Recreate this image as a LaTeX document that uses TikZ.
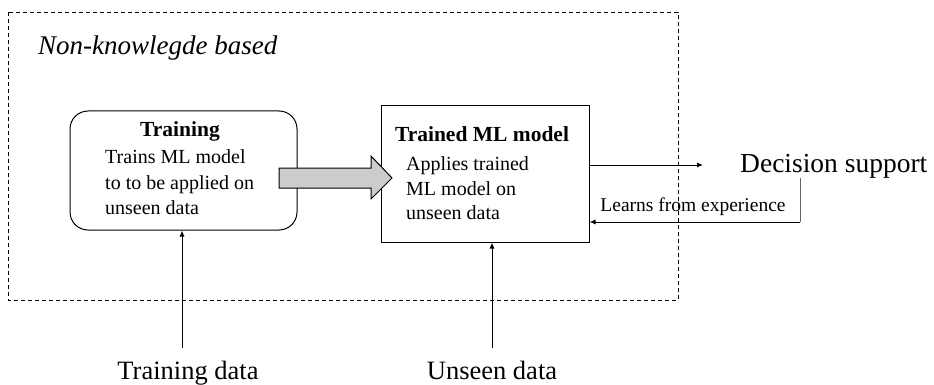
\documentclass[tikz,border=0pt]{standalone}
\usepackage{fontspec}
\setmainfont{Liberation Serif}
\usetikzlibrary{arrows.meta}
\begin{document}
\begin{tikzpicture}[x=1pt,y=-1pt,
  conn/.style={line width=1pt,-{Latex[length=6pt,width=5pt]}},
  boxline/.style={draw,line width=1pt},
  body/.style={font=\fontsize{20}{24}\selectfont,anchor=base west,inner sep=0pt},
  ttl/.style={font=\fontsize{21.5}{24}\selectfont\bfseries,anchor=base,inner sep=0pt},
  lbl/.style={font=\fontsize{26.5}{30}\selectfont,inner sep=0pt}]
\useasboundingbox (0,0) rectangle (934,385);
% dashed frame
\draw[line width=0.8pt,dash pattern=on 4pt off 3pt] (8,12) rectangle (678,300);
\node[font=\fontsize{27}{30}\selectfont\itshape,anchor=base west,inner sep=0pt] (nk) at (38,55) {Non-knowlegde based};
% boxes
\node[boxline,rounded corners=18pt,minimum width=227pt,minimum height=119pt,inner sep=0pt] (train) at (183.5,170.5) {};
\node[boxline,minimum width=208pt,minimum height=136pt,inner sep=0pt] (model) at (485,174) {};
% texts
\node[ttl] (tt) at (180,136) {Training};
\node[body] (t1) at (105,164) {Trains ML model};
\node[body] (t2) at (105,189) {to to be applied on};
\node[body] (t3) at (105,214) {unseen data};
\node[ttl] (mt) at (482,142) {Trained ML model};
\node[body] (m1) at (406,170) {Applies trained};
\node[body] (m2) at (406,195) {ML model on};
\node[body] (m3) at (406,219) {unseen data};
% block arrow
\draw[line width=1pt,fill=black!20] (279,168) -- (371,168) -- (371,156) -- (392,178) -- (371,199) -- (371,188) -- (279,188) -- cycle;
% decision support
\node[font=\fontsize{27.5}{30}\selectfont,anchor=base west,inner sep=0pt] (ds) at (740,172) {Decision support};
\coordinate (dsin) at (703,165);
\draw[conn] (model.east |- dsin) -- (dsin);
\coordinate (fb1) at (800,178);
\coordinate (fb2) at (800,222);
\draw[line width=1pt,draw=black!60] (fb1) -- (fb2);
\draw[conn] (fb2) -- (model.east |- fb2);
\node[font=\fontsize{19.5}{22}\selectfont,anchor=base,inner sep=0pt] (lfe) at (693,211) {Learns from experience};
% inputs
\node[lbl,anchor=base] (td) at (188,379) {Training data};
\node[lbl,anchor=base] (ud) at (492,379) {Unseen data};
\coordinate (tdt) at (182,348);
\coordinate (udt) at (492,348);
\draw[conn] (tdt) -- (tdt |- train.south);
\draw[conn] (udt) -- (udt |- model.south);
\end{tikzpicture}
\end{document}
